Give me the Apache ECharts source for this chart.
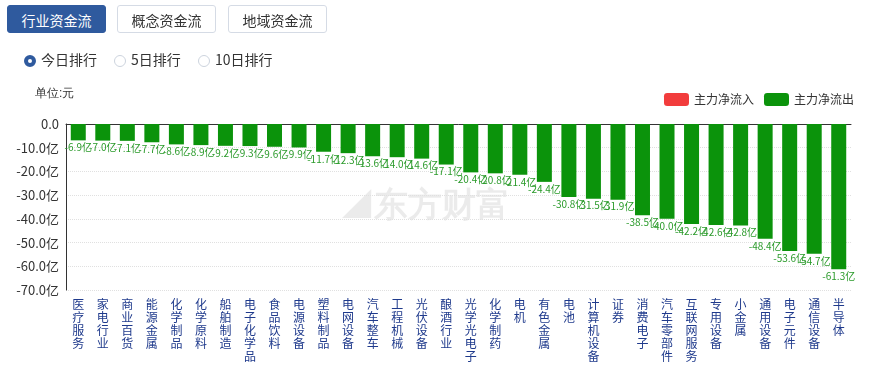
<!DOCTYPE html>
<html><head><meta charset="utf-8">
<script src="https://cdn.jsdelivr.net/npm/echarts@6/dist/echarts.min.js"></script>
<style>
html,body{margin:0;padding:0;background:#fff;font-family:"Microsoft YaHei","Noto Sans CJK SC",sans-serif;}
#chart{position:absolute;left:0;top:0;width:871px;height:365px;}
.btn{position:absolute;top:5px;width:99px;height:28px;border:1px solid #d5dbe5;border-radius:3px;background:#fff;color:#333;font-size:14px;line-height:28px;text-align:center;z-index:2;box-sizing:border-box;}
.btn.on{background:#2f5a9e;color:#fff;border-color:#2f5a9e;}
.radio{position:absolute;top:50px;font-size:14px;color:#333;z-index:2;line-height:18px;}
.radio i{display:inline-block;width:12px;height:12px;border:1px solid #ccd3dd;border-radius:50%;vertical-align:-2px;margin-right:5px;box-sizing:border-box;}
.radio i.on{border:4px solid #2f5a9e;}
</style></head>
<body>
<div id="chart"></div>
<div class="btn on" style="left:7px">行业资金流</div>
<div class="btn" style="left:117px">概念资金流</div>
<div class="btn" style="left:228px">地域资金流</div>
<div class="radio" style="left:24px"><i class="on"></i>今日排行</div>
<div class="radio" style="left:114px"><i></i>5日排行</div>
<div class="radio" style="left:198px"><i></i>10日排行</div>
<script>
const categories = ['医疗服务','家电行业','商业百货','能源金属','化学制品','化学原料','船舶制造','电子化学品','食品饮料','电源设备','塑料制品','电网设备','汽车整车','工程机械','光伏设备','酿酒行业','光学光电子','化学制药','电机','有色金属','电池','计算机设备','证券','消费电子','汽车零部件','互联网服务','专用设备','小金属','通用设备','电子元件','通信设备','半导体'];
const netFlow = [-6.9,-7.0,-7.1,-7.7,-8.6,-8.9,-9.2,-9.3,-9.6,-9.9,-11.7,-12.3,-13.6,-14.0,-14.6,-17.1,-20.4,-20.8,-21.4,-24.4,-30.8,-31.5,-31.9,-38.5,-40.0,-42.2,-42.6,-42.8,-48.4,-53.6,-54.7,-61.3];
const yTicks = [0,-10,-20,-30,-40,-50,-60,-70];

const inflow = netFlow.map(v => v > 0 ? v : null);
const outflow = netFlow.map(v => v <= 0 ? v : null);

const chart = echarts.init(document.getElementById('chart'));
chart.setOption({
  animation:false,
  textStyle:{fontFamily:'"Microsoft YaHei","Noto Sans CJK SC",sans-serif'},
  graphic:[
    {type:'text',left:35,top:88,style:{text:'单位:元',fontSize:12,fill:'#333'}},
    {type:'text',left:340,top:190,style:{text:'◢东方财富',fontSize:34,fontWeight:'bold',fill:'rgba(0,0,0,0.08)'}}
  ],
  legend:{
    right:12, top:88, itemWidth:25, itemHeight:13, itemGap:10,
    textStyle:{fontSize:12,color:'#333'},
    data:[{name:'主力净流入',itemStyle:{color:'#f23c3c'}},{name:'主力净流出',itemStyle:{color:'#0b930b'}}]
  },
  grid:{left:66,right:20,top:124,bottom:75},
  xAxis:[{
    type:'category', data:categories, position:'bottom',
    axisLine:{show:false}, axisTick:{show:false},
    axisLabel:{interval:0,fontSize:12,color:'#1f3a8c',lineHeight:13,margin:8,
      formatter:s=>s.split('').join('\n')}
  },{
    type:'category', data:categories, position:'top',
    axisLine:{show:true,lineStyle:{color:'#333',width:1}}, axisTick:{show:false}, axisLabel:{show:false}
  }],
  yAxis:{
    type:'value', min:-70, max:0, interval:10,
    axisLine:{show:true,lineStyle:{color:'#333'}}, axisTick:{show:false},
    axisLabel:{fontSize:13,color:'#333',margin:7,
      formatter:v=> v===0 ? '0.0' : v.toFixed(1)+'亿'},
    splitLine:{show:true,lineStyle:{type:'dotted',color:'#e0e0e0'}}
  },
  series:[{
    name:'主力净流入', type:'bar', stack:'a', data:inflow, barWidth:15,
    itemStyle:{color:'#f23c3c'}
  },{
    name:'主力净流出', type:'bar', stack:'a', data:outflow, barWidth:15,
    itemStyle:{color:'#0b930b'},
    label:{show:true,position:'bottom',distance:2,fontSize:10,color:'#2a9a2a',
      formatter:p=>p.value.toFixed(1)+'亿'}
  }]
});
</script>
</body></html>
